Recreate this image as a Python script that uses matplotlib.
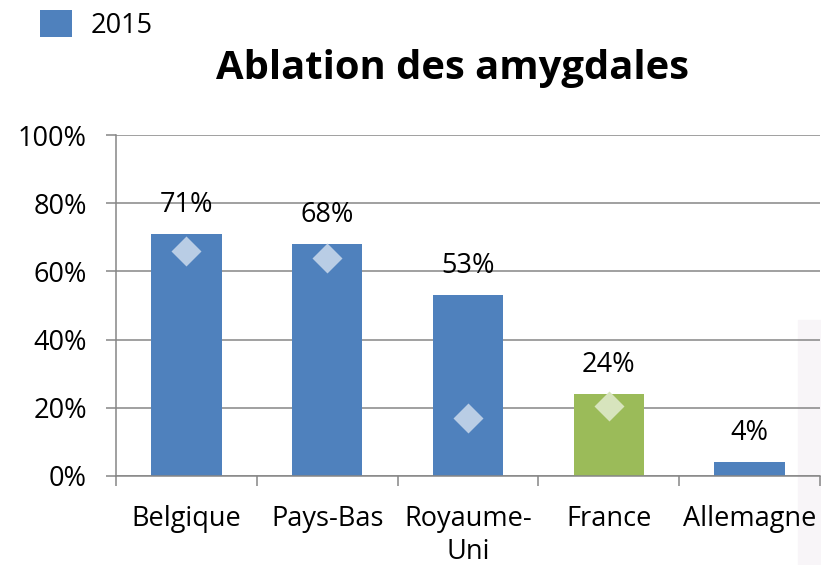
import numpy as np
import matplotlib.pyplot as plt
from matplotlib.patches import Rectangle

# data
pays = ['Belgique', 'Pays-Bas', 'Royaume-\nUni', 'France', 'Allemagne']
taux_2015 = [71, 68, 53, 24, 4]          # bars (%)
autre = [66, 64, 17, 20.5, np.nan]       # diamond markers (%)
labels = ['71%', '68%', '53%', '24%', '4%']

bleu = '#4F81BD'
vert = '#9BBB59'
bar_colors = [bleu, bleu, bleu, vert, bleu]
diam_colors = ['#B9CDE5', '#B9CDE5', '#B9CDE5', '#D7E4BD', '#B9CDE5']

plt.rcParams['font.family'] = ['Open Sans', 'DejaVu Sans']
plt.rcParams['font.size'] = 19.5

fig = plt.figure(figsize=(8.21, 5.65), dpi=100)
ax = fig.add_axes([116/821, 1-476/565, 704/821, 341/565])
ax.set_facecolor('none')

# faint strip on the right edge
fig.patches.append(Rectangle((798/821, 0), 23/821, 1-320/565, transform=fig.transFigure,
                             color='#F8F5F8', zorder=-5))

x = np.arange(len(pays))
bars = ax.bar(x, taux_2015, width=0.5, color=bar_colors, zorder=2, label='2015')
for i in range(len(x)):
    if not np.isnan(autre[i]):
        ax.plot(x[i], autre[i], 'D', ms=15, color=diam_colors[i], mec='none', zorder=3)
    ax.annotate(labels[i], (x[i], taux_2015[i]), xytext=(0, 21), textcoords='offset points',
                ha='center', va='center')

ax.set_xlim(-0.5, 4.5)
ax.set_ylim(0, 100)
ax.set_yticks(np.arange(0, 101, 20))
ax.set_yticklabels([f'{v}%' for v in range(0, 101, 20)])
ax.yaxis.grid(True, color='#868686', lw=1.1, zorder=0)
ax.set_axisbelow(True)

ax.set_xticks(x)
ax.set_xticklabels(pays, linespacing=1.25)
ax.set_xticks(np.arange(-0.5, 5, 1), minor=True)
ax.tick_params(axis='x', which='major', length=0, pad=21)
ax.tick_params(axis='x', which='minor', length=7, color='#868686', width=1.1)
ax.tick_params(axis='y', length=7, color='#868686', width=1.1, pad=14)

for s in ['top', 'right']:
    ax.spines[s].set_visible(False)
for s in ['left', 'bottom']:
    ax.spines[s].set_color('#868686')
    ax.spines[s].set_linewidth(1.1)

fig.text(452/821, 1-69/565, 'Ablation des amygdales', ha='center', va='center',
         fontsize=28.8, fontweight='bold')

fig.legend(handles=[bars.patches[0]], labels=['2015'], loc='upper left',
           bbox_to_anchor=(16/821, 1.025), frameon=False, handlelength=1.15,
           handleheight=1.15, handletextpad=0.7)

fig.savefig('out.png', dpi=100)
